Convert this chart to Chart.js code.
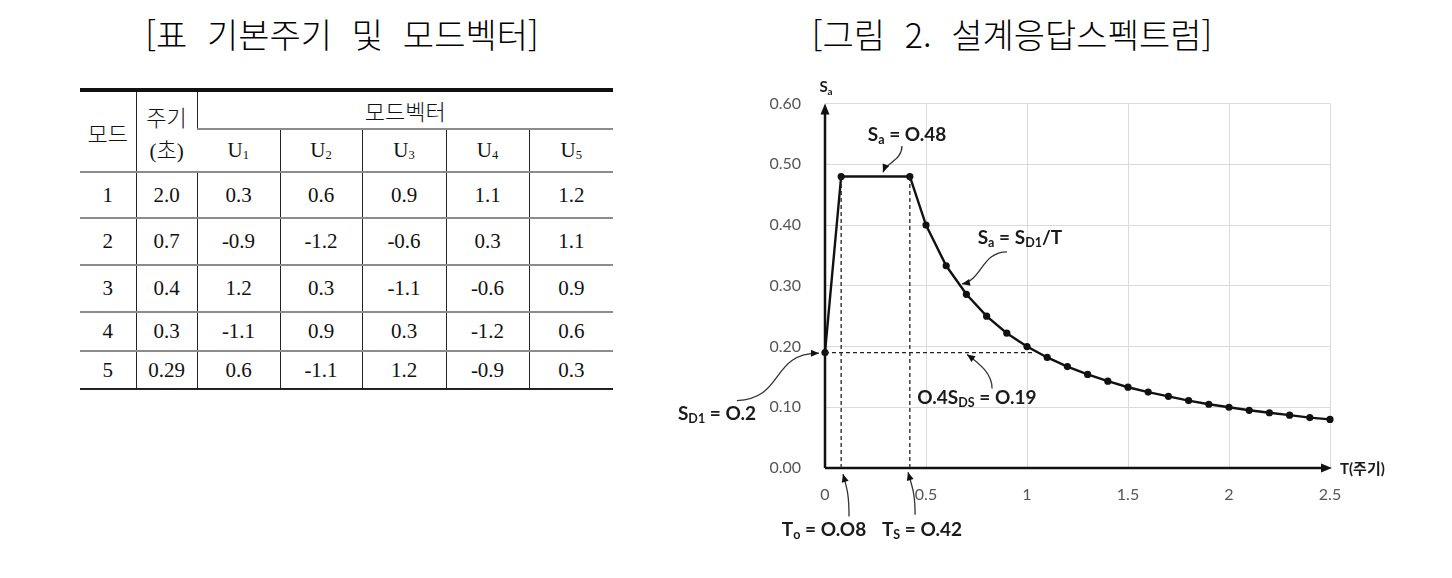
<!DOCTYPE html>
<html lang="ko">
<head>
<meta charset="utf-8">
<title>기본주기 및 모드벡터 / 설계응답스펙트럼</title>
<script src="https://cdn.jsdelivr.net/npm/chart.js@4.4.1/dist/chart.umd.min.js"></script>
<style>
  html, body { margin: 0; padding: 0; background: #fff; }
  body { width: 1452px; height: 578px; position: relative; overflow: hidden; }
  .title {
    position: absolute; top: 14px; line-height: 40px;
    font-family: "Noto Sans CJK KR", sans-serif; font-size: 34px; font-weight: 300;
    color: #000; white-space: nowrap; word-spacing: 0.3em;
    transform: translateX(-50%);
  }
  #modeTable {
    position: absolute; left: 80px; top: 88px;
    border-collapse: collapse; table-layout: fixed; width: 533px;
    font-family: "Liberation Serif", "Noto Sans CJK KR", serif; font-size: 21px; color: #111;
  }
  #modeTable th, #modeTable td {
    padding: 0; text-align: center; vertical-align: middle; font-weight: normal;
    border-left: 1.5px solid #222; border-bottom: 2px solid #8c8c8c;
  }
  #modeTable tr > :first-child { border-left: none; }
  #modeTable thead tr:first-child > * { border-top: 4px solid #111; }
  #modeTable tbody tr:last-child td { border-bottom: 2px solid #222; }
  #modeTable .ko { font-family: "Noto Sans CJK KR", sans-serif; font-weight: 300; font-size: 22px; }
  #modeTable sub { font-size: 60%; vertical-align: -0.15em; }
  #chartBox { position: absolute; left: 660px; top: 70px; width: 792px; height: 508px; }
</style>
</head>
<body>
<div class="title" style="left:342px">[표 기본주기 및 모드벡터]</div>
<div class="title" style="left:1012px">[그림 2. 설계응답스펙트럼]</div>

<table id="modeTable">
  <colgroup>
    <col style="width:56px"><col style="width:61px">
    <col style="width:83px"><col style="width:82px"><col style="width:84px"><col style="width:83px"><col style="width:84px">
  </colgroup>
  <thead></thead>
  <tbody></tbody>
</table>

<div id="chartBox"><canvas id="spectrum"></canvas></div>

<script>
// ---- table data ----
const modeNo = [1, 2, 3, 4, 5];
const periodSec = ['2.0', '0.7', '0.4', '0.3', '0.29'];
const vectorNames = ['U1', 'U2', 'U3', 'U4', 'U5'];
const modeVectors = [
  [0.3, 0.6, 0.9, 1.1, 1.2],
  [-0.9, -1.2, -0.6, 0.3, 1.1],
  [1.2, 0.3, -1.1, -0.6, 0.9],
  [-1.1, 0.9, 0.3, -1.2, 0.6],
  [0.6, -1.1, 1.2, -0.9, 0.3]
];
const rowHeights = [46, 47, 47, 39, 38];

// ---- spectrum data ----
const periodT = [0, 0.08, 0.42, 0.5, 0.6, 0.7, 0.8, 0.9, 1.0, 1.1, 1.2, 1.3, 1.4, 1.5,
                 1.6, 1.7, 1.8, 1.9, 2.0, 2.1, 2.2, 2.3, 2.4, 2.5];
const spectrumSa = [0.19, 0.48, 0.48, 0.40, 0.333, 0.286, 0.25, 0.222, 0.20, 0.182, 0.167, 0.154, 0.143, 0.133,
                    0.125, 0.118, 0.111, 0.105, 0.10, 0.095, 0.091, 0.087, 0.083, 0.08];
const cornerT = [0.08, 0.42];     // To, Ts
const plateauSa = 0.48;
const guideSa = 0.19;             // 0.4 SDS
const guideEndT = 1.04;
const xTicks = [0, 0.5, 1, 1.5, 2, 2.5];
const yTicks = [0, 0.1, 0.2, 0.3, 0.4, 0.5, 0.6];

// ---- build table ----
const thead = document.querySelector('#modeTable thead');
const tbody = document.querySelector('#modeTable tbody');
thead.innerHTML =
  '<tr style="height:39px"><th rowspan="2" class="ko">모드</th>' +
  '<th rowspan="2"><span class="ko">주기</span><br>(<span class="ko">초</span>)</th>' +
  '<th colspan="5" class="ko">모드벡터</th></tr>' +
  '<tr style="height:43px">' + vectorNames.map(function(n) {
    return '<th>' + n[0] + '<sub>' + n.slice(1) + '</sub></th>';
  }).join('') + '</tr>';
modeNo.forEach(function(m, i) {
  var tr = document.createElement('tr');
  tr.style.height = rowHeights[i] + 'px';
  var html = '<td>' + m + '</td><td>' + periodSec[i] + '</td>';
  modeVectors[i].forEach(function(v) { html += '<td>' + v.toFixed(1) + '</td>'; });
  tr.innerHTML = html;
  tbody.appendChild(tr);
});

// ---- annotations (data coords, control offsets in px) ----
const notes = [
  { parts: [['S'], ['a', 1], [' = O.48']], at: [0.406, 0.549], from: [0.381, 0.530], tip: [0.287, 0.487], c1: [0, 14], c2: [4, -10] },
  { parts: [['S'], ['a', 1], [' = S'], ['D1', 1], ['/T']], at: [0.965, 0.379], from: [0.901, 0.356], tip: [0.678, 0.303], c1: [-25, 0], c2: [20, -4] },
  { parts: [['O.4S'], ['DS', 1], [' = O.19']], at: [0.752, 0.116], from: [0.827, 0.131], tip: [0.703, 0.187], c1: [0, -14], c2: [14, 10] },
  { parts: [['S'], ['D1', 1], [' = O.2']], at: [-0.535, 0.089], from: [-0.436, 0.111], tip: [-0.030, 0.189], c1: [48, -2], c2: [-49, 0] },
  { parts: [['T'], ['o', 1], [' = O.O8']], at: [-0.005, -0.102], from: [0.119, -0.080], tip: [0.089, -0.010], c1: [0, -22], c2: [4, 14] },
  { parts: [['T'], ['S', 1], [' = O.42']], at: [0.480, -0.102], from: [0.446, -0.077], tip: [0.411, -0.007], c1: [0, -22], c2: [4, 14] }
];
const noteFont = '"Lato", "Noto Sans CJK KR", sans-serif';

function fontOf(size) { return 'bold ' + size + 'px ' + noteFont; }

function drawRich(ctx, parts, cx, cy, size) {
  var sub = 0.66;
  var w = 0;
  parts.forEach(function(p) {
    ctx.font = fontOf(p[1] ? size * sub : size);
    w += ctx.measureText(p[0]).width;
  });
  var x = cx - w / 2;
  ctx.textAlign = 'left';
  ctx.textBaseline = 'middle';
  parts.forEach(function(p) {
    var s = p[1] ? size * sub : size;
    ctx.font = fontOf(s);
    ctx.fillText(p[0], x, cy + (p[1] ? size * 0.28 : 0));
    x += ctx.measureText(p[0]).width;
  });
}

function arrowHead(ctx, x, y, dx, dy, len, half) {
  var l = Math.hypot(dx, dy) || 1;
  var ux = dx / l, uy = dy / l;
  ctx.beginPath();
  ctx.moveTo(x, y);
  ctx.lineTo(x - ux * len - uy * half, y - uy * len + ux * half);
  ctx.lineTo(x - ux * len + uy * half, y - uy * len - ux * half);
  ctx.closePath();
  ctx.fill();
}

const spectrumDecor = {
  id: 'spectrumDecor',
  beforeDatasetsDraw(chart) {
    const { ctx, chartArea: a } = chart;
    ctx.save();
    ctx.strokeStyle = '#111';
    ctx.fillStyle = '#111';
    ctx.lineWidth = 2.5;
    ctx.beginPath();
    ctx.moveTo(a.left, a.bottom);
    ctx.lineTo(a.left, a.top + 6);
    ctx.moveTo(a.left, a.bottom);
    ctx.lineTo(a.right - 6, a.bottom);
    ctx.stroke();
    arrowHead(ctx, a.left, a.top, 0, -1, 11, 4.5);
    arrowHead(ctx, a.right + 2, a.bottom, 1, 0, 11, 4.5);
    ctx.restore();
  },
  afterDraw(chart) {
    const { ctx, chartArea: a, scales } = chart;
    const xs = scales.x, ys = scales.y;
    ctx.save();
    ctx.fillStyle = '#1a1a1a';
    drawRich(ctx, [['S'], ['a', 1]], a.left + 1, a.top - 16, 15);
    ctx.font = 'bold 15px ' + noteFont;
    ctx.textAlign = 'left';
    ctx.textBaseline = 'middle';
    ctx.fillText('T(주기)', a.right + 10, a.bottom + 1);

    notes.forEach(function(n) {
      var sx = xs.getPixelForValue(n.from[0]), sy = ys.getPixelForValue(n.from[1]);
      var tx = xs.getPixelForValue(n.tip[0]), ty = ys.getPixelForValue(n.tip[1]);
      var c1x = sx + n.c1[0], c1y = sy + n.c1[1];
      var c2x = tx + n.c2[0], c2y = ty + n.c2[1];
      ctx.strokeStyle = '#333';
      ctx.fillStyle = '#111';
      ctx.lineWidth = 1.3;
      ctx.beginPath();
      ctx.moveTo(sx, sy);
      ctx.bezierCurveTo(c1x, c1y, c2x, c2y, tx, ty);
      ctx.stroke();
      arrowHead(ctx, tx, ty, tx - c2x, ty - c2y, 8, 3.5);
      ctx.fillStyle = '#1a1a1a';
      drawRich(ctx, n.parts, xs.getPixelForValue(n.at[0]), ys.getPixelForValue(n.at[1]), 19);
    });
    ctx.restore();
  }
};

function dashed(points) {
  return {
    data: points,
    borderColor: '#222',
    borderWidth: 1.3,
    borderDash: [4, 3],
    pointRadius: 0,
    fill: false,
    clip: false
  };
}

const ctx = document.getElementById('spectrum').getContext('2d');
const spectrumChart = new Chart(ctx, {
  type: 'line',
  data: {
    datasets: [
      dashed([{ x: cornerT[0], y: 0 }, { x: cornerT[0], y: plateauSa }]),
      dashed([{ x: cornerT[1], y: 0 }, { x: cornerT[1], y: plateauSa }]),
      dashed([{ x: 0, y: guideSa }, { x: guideEndT, y: guideSa }]),
      {
        label: 'Sa',
        data: periodT.map(function(t, i) { return { x: t, y: spectrumSa[i] }; }),
        borderColor: '#111',
        backgroundColor: '#111',
        borderWidth: 2.4,
        pointRadius: 3.6,
        pointBackgroundColor: '#111',
        pointBorderWidth: 0,
        tension: 0,
        fill: false,
        clip: false
      }
    ]
  },
  options: {
    responsive: true,
    maintainAspectRatio: false,
    animation: false,
    layout: { padding: { left: 0, right: 122, top: 32, bottom: 70 } },
    plugins: { legend: { display: false }, tooltip: { enabled: false }, title: { display: false } },
    scales: {
      x: {
        type: 'linear', min: 0, max: 2.5,
        afterBuildTicks: function(scale) { scale.ticks = xTicks.map(function(v) { return { value: v }; }); },
        afterFit: function(scale) { scale.height = 40; },
        grid: { color: '#dadada', lineWidth: 1, drawTicks: false },
        border: { display: false },
        ticks: {
          padding: 17, color: '#555', font: { family: 'Lato, "Noto Sans", sans-serif', size: 16 },
          callback: function(v) { return String(Number(v)); }
        }
      },
      y: {
        type: 'linear', min: 0, max: 0.6,
        afterBuildTicks: function(scale) { scale.ticks = yTicks.map(function(v) { return { value: v }; }); },
        afterFit: function(scale) { scale.width = 165; },
        grid: { color: '#dadada', lineWidth: 1, drawTicks: false },
        border: { display: false },
        ticks: {
          padding: 24, color: '#555', font: { family: 'Lato, "Noto Sans", sans-serif', size: 16 },
          callback: function(v) { return Number(v).toFixed(2); }
        }
      }
    }
  },
  plugins: [spectrumDecor]
});
</script>
</body>
</html>
